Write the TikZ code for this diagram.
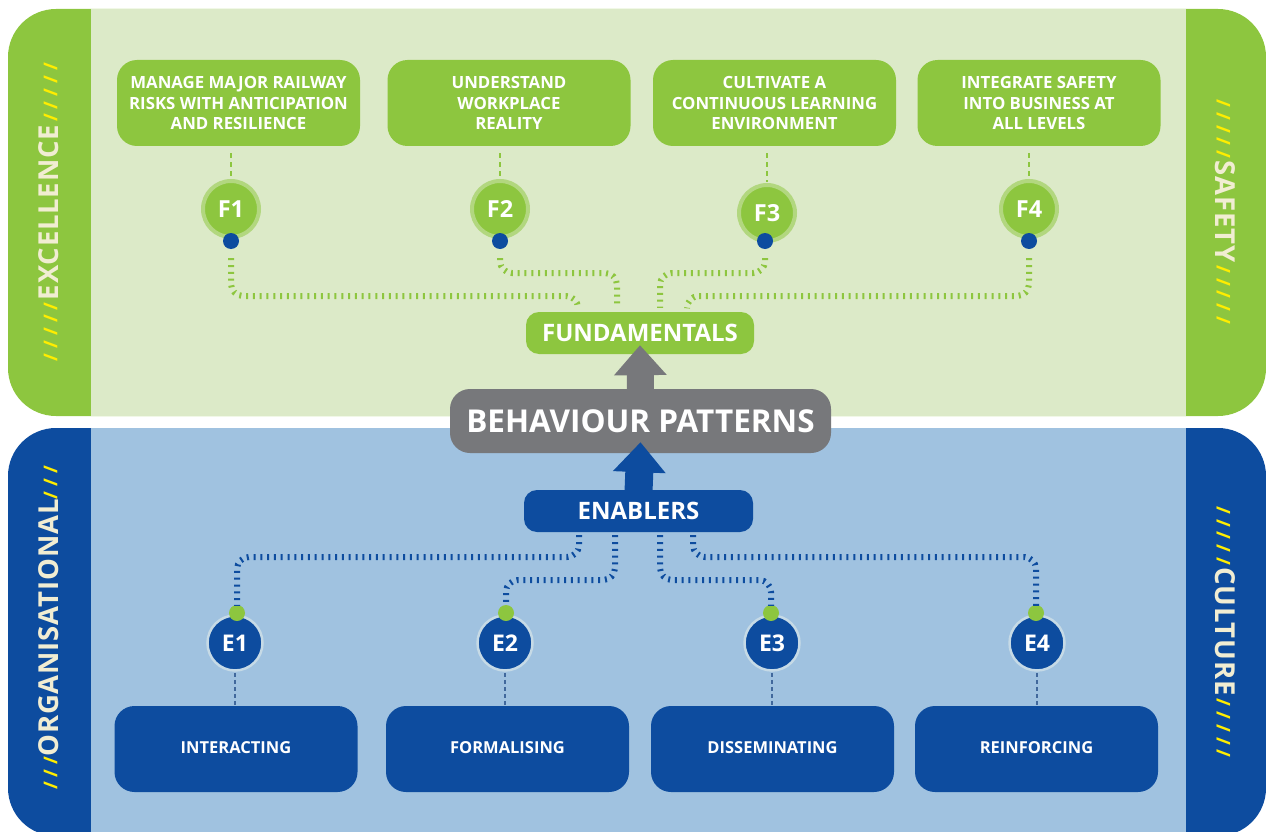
\documentclass[tikz,border=0pt]{standalone}
\usepackage{fontspec}
\setmainfont{Open Sans}
\newfontfamily\sidefont[LetterSpace=3]{Open Sans}
\newfontfamily\slashfont[LetterSpace=26]{Open Sans}
\usetikzlibrary{arrows.meta}
\definecolor{dgreen}{HTML}{8DC63F}
\definecolor{lgreen}{HTML}{DCEAC8}
\definecolor{ringgreen}{HTML}{B2D77F}
\definecolor{dblue}{HTML}{0D4C9F}
\definecolor{lblue}{HTML}{A0C2E0}
\definecolor{ringblue}{HTML}{C6DAE6}
\definecolor{thinblue}{HTML}{41689C}
\definecolor{greyc}{HTML}{77787B}
\definecolor{cream}{HTML}{F1EDD2}
\definecolor{yel}{HTML}{FFED00}
\tikzset{
  gbox/.style={fill=dgreen, rounded corners=20pt, minimum width=243pt, minimum height=86pt,
    align=center, text=white, inner sep=0pt, font=\bfseries\fontsize{16.8}{20.5}\selectfont},
  bbox/.style={fill=dblue, rounded corners=20pt, minimum width=243pt, minimum height=86pt,
    align=center, text=white, inner sep=0pt, font=\bfseries\fontsize{16.5}{20}\selectfont},
  fcirc/.style={circle, fill=dgreen, draw=ringgreen, line width=4pt, minimum size=56pt,
    inner sep=0pt, text=white, font=\bfseries\fontsize{23.5}{23.5}\selectfont},
  ecirc/.style={circle, fill=dblue, draw=ringblue, line width=2.5pt, minimum size=55pt,
    inner sep=0pt, text=white, font=\bfseries\fontsize{23}{23}\selectfont},
  fdot/.style={circle, fill=dblue, minimum size=16pt, inner sep=0pt},
  edot/.style={circle, fill=dgreen, minimum size=16pt, inner sep=0pt},
  gticks/.style={draw=dgreen, line width=6pt, dash pattern=on 2pt off 4.8pt, rounded corners=12pt},
  bticks/.style={draw=dblue, line width=6pt, dash pattern=on 2pt off 4.8pt, rounded corners=12pt},
  gthin/.style={draw=dgreen, line width=2pt, dash pattern=on 5pt off 4pt},
  bthin/.style={draw=thinblue, line width=1.2pt, dash pattern=on 4pt off 3pt},
  sidelbl/.style={text=cream, inner sep=0pt, font=\sidefont\bfseries\fontsize{27.5}{27.5}\selectfont},
  midbox/.style={rounded corners=13pt, text=white, inner sep=0pt, minimum height=42pt,
    font=\bfseries\fontsize{24}{24}\selectfont},
}
\newcommand{\slh}[1]{\raisebox{1.5pt}{\color{yel}\slashfont\bfseries\fontsize{19}{19}\selectfont #1}}
\begin{document}
\begin{tikzpicture}[x=1pt,y=-1pt]
\useasboundingbox (0,0) rectangle (1266,832);
\clip (0,0) rectangle (1266,832);
% panels
\fill[dgreen, rounded corners=48pt] (8,9) rectangle (1266,416);
\fill[lgreen] (91,9) rectangle (1186,416);
\fill[dblue, rounded corners=48pt] (8,428) rectangle (1266,836);
\fill[lblue] (91,428) rectangle (1186,836);
% side labels
\node[sidelbl, rotate=90] (lex) at (49,212) {\slh{/////}\hspace{2pt}EXCELLENCE\hspace{3pt}\slh{/////}};
\node[sidelbl, rotate=-90] (lsa) at (1225,212) {\slh{/////}\hspace{2pt}SAFETY\hspace{3pt}\slh{/////}};
\node[sidelbl, rotate=90] (lor) at (49,628) {\slh{///}ORGANISATIONAL\slh{///}};
\node[sidelbl, rotate=-90] (lcu) at (1225,632) {\slh{/////}\hspace{2pt}CULTURE\hspace{3pt}\slh{/////}};
% top boxes
\node[gbox] (g1) at (238.5,103) {MANAGE MAJOR RAILWAY\\RISKS WITH ANTICIPATION\\AND RESILIENCE};
\node[gbox] (g2) at (509,103) {UNDERSTAND\\WORKPLACE\\REALITY};
\node[gbox] (g3) at (774.5,103) {CULTIVATE A\\CONTINUOUS LEARNING\\ENVIRONMENT};
\node[gbox] (g4) at (1039,103) {INTEGRATE SAFETY\\INTO BUSINESS AT\\ALL LEVELS};
% F circles
\node[fcirc] (f1) at (231,209) {F1};
\node[fcirc] (f2) at (500,209) {F2};
\node[fcirc] (f3) at (767,213) {F3};
\node[fcirc] (f4) at (1029,209) {F4};
\foreach \i in {1,2,3,4}{
  \draw[gthin] ([yshift=-7pt]f\i.north |- g\i.south) -- ([yshift=1pt]f\i.north);
}
\node[fdot] (fd1) at (231,241) {};
\node[fdot] (fd2) at (500,241) {};
\node[fdot] (fd3) at (765,241) {};
\node[fdot] (fd4) at (1029,241) {};
% fundamentals
\node[midbox, fill=dgreen, minimum width=228pt] (fund) at (640,333) {FUNDAMENTALS};
\coordinate (h1) at (400,296);
\coordinate (h2) at (560,273);
\coordinate (h3) at (720,273);
\coordinate (h4) at (880,296);
\draw[gticks] ([yshift=-9pt]fd1.south) |- (h1) -| ([xshift=-62pt,yshift=4pt]fund.north);
\draw[gticks] ([yshift=-9pt]fd2.south) |- (h2) -| ([xshift=-23pt,yshift=4pt]fund.north);
\draw[gticks] ([yshift=-9pt]fd3.south) |- (h3) -| ([xshift=20pt,yshift=4pt]fund.north);
\draw[gticks] ([yshift=-9pt]fd4.south) |- (h4) -| ([xshift=47pt,yshift=4pt]fund.north);
% behaviour patterns
\node[midbox, fill=greyc, minimum width=381pt, minimum height=64pt, rounded corners=20pt,
  font=\bfseries\fontsize{31.5}{31.5}\selectfont] (beh) at (640.5,421) {BEHAVIOUR PATTERNS};
\draw[greyc, line width=27pt, -{Triangle[length=30pt,width=51pt]}] ([yshift=-2pt]beh.north) -- ([yshift=9pt]fund.south);
% enablers
\node[midbox, fill=dblue, minimum width=229pt] (en) at (638.5,511) {ENABLERS};
\draw[dblue, line width=28pt, -{Triangle[length=30pt,width=51pt]}] ([yshift=-2pt]en.north) -- ([yshift=11pt]beh.south);
% E circles
\node[ecirc] (e1) at (235,643) {E1};
\node[ecirc] (e2) at (505,643) {E2};
\node[ecirc] (e3) at (772,643) {E3};
\node[ecirc] (e4) at (1037,643) {E4};
\node[edot] (ed1) at (237,613) {};
\node[edot] (ed2) at (506,613) {};
\node[edot] (ed3) at (771,613) {};
\node[edot] (ed4) at (1036,613) {};
\coordinate (k1) at (400,557);
\coordinate (k2) at (560,580);
\coordinate (k3) at (720,580);
\coordinate (k4) at (880,557);
\draw[bticks] ([xshift=-59.5pt,yshift=-3pt]en.south) |- (k1) -| ([yshift=-1pt]ed1.north);
\draw[bticks] ([xshift=-23.5pt,yshift=-3pt]en.south) |- (k2) -| ([yshift=-1pt]ed2.north);
\draw[bticks] ([xshift=21.5pt,yshift=-3pt]en.south) |- (k3) -| ([yshift=-1pt]ed3.north);
\draw[bticks] ([xshift=54.5pt,yshift=-3pt]en.south) |- (k4) -| ([yshift=-1pt]ed4.north);
% bottom boxes
\node[bbox] (b1) at (236,749) {\raisebox{2pt}{INTERACTING}};
\node[bbox] (b2) at (507.5,749) {\raisebox{2pt}{FORMALISING}};
\node[bbox] (b3) at (772.5,749) {\raisebox{2pt}{DISSEMINATING}};
\node[bbox] (b4) at (1036.5,749) {\raisebox{2pt}{REINFORCING}};
\foreach \i in {1,2,3,4}{
  \draw[bthin] ([yshift=-1pt]e\i.south) -- (e\i.south |- b\i.north);
}
\end{tikzpicture}
\end{document}
